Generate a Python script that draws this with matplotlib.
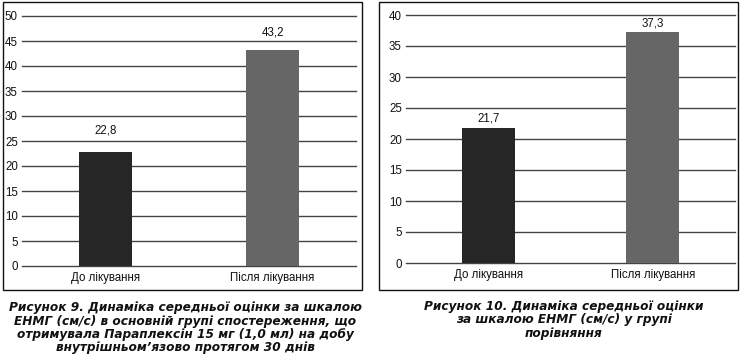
import matplotlib
matplotlib.use("Agg")
import matplotlib.pyplot as plt
from matplotlib.patches import Rectangle

categories = ["До лікування", "Після лікування"]
values_main = [22.8, 43.2]
values_comp = [21.7, 37.3]
labels_main = ["22,8", "43,2"]
labels_comp = ["21,7", "37,3"]
yticks_main = [0, 5, 10, 15, 20, 25, 30, 35, 40, 45, 50]
yticks_comp = [0, 5, 10, 15, 20, 25, 30, 35, 40]
bar_colors = ["#262626", "#666666"]
caption_main = ("Рисунок 9. Динаміка середньої оцінки за шкалою\n"
                "ЕНМГ (см/с) в основній групі спостереження, що\n"
                "отримувала Параплексін 15 мг (1,0 мл) на добу\n"
                "внутрішньом’язово протягом 30 днів")
caption_comp = ("Рисунок 10. Динаміка середньої оцінки\n"
                "за шкалою ЕНМГ (см/с) у групі\n"
                "порівняння")

plt.rcParams['font.family'] = ['Liberation Sans', 'DejaVu Sans']

W, H = 746, 364
fig = plt.figure(figsize=(W / 100, H / 100), dpi=100)

def px_axes(x0, y_top, x1, y_bot):
    return fig.add_axes([x0 / W, 1 - y_bot / H, (x1 - x0) / W, (y_bot - y_top) / H])

def draw_panel(ax, vals, labs, ticks, offsets):
    x = list(range(len(categories)))
    bars = ax.bar(x, vals, width=0.32, color=bar_colors, zorder=3)
    ax.set_xlim(-0.5, len(categories) - 0.5)
    ax.set_ylim(ticks[0], ticks[-1])
    ax.set_yticks(ticks)
    ax.set_yticklabels([str(t) for t in ticks])
    ax.set_xticks(x)
    ax.set_xticklabels(categories)
    ax.tick_params(axis='both', length=0, labelsize=8.3, colors='#111111')
    ax.tick_params(axis='y', pad=3)
    ax.tick_params(axis='x', pad=4.5)
    for s in ax.spines.values():
        s.set_visible(False)
    ax.yaxis.grid(True, color='#444444', linewidth=1.0, zorder=0)
    for gl in ax.get_ygridlines():
        gl.set_clip_on(False)
    ax.set_axisbelow(True)
    for b, lab, off in zip(bars, labs, offsets):
        ax.annotate(lab, (b.get_x() + b.get_width() / 2, b.get_height()),
                    xytext=(0, off), textcoords='offset points',
                    ha='center', va='bottom', fontsize=8.3, color='#111111')

ax1 = px_axes(22, 16, 356, 266)
draw_panel(ax1, values_main, labels_main, yticks_main, [11, 8.5])
ax2 = px_axes(406, 15, 735, 263)
draw_panel(ax2, values_comp, labels_comp, yticks_comp, [3, 1.5])

# frames
for (x0, y0, x1, y1) in [(3, 2, 362, 290), (379, 2, 738, 290)]:
    fig.patches.append(Rectangle((x0 / W, 1 - y1 / H), (x1 - x0) / W, (y1 - y0) / H,
                                 transform=fig.transFigure, fill=False,
                                 edgecolor='#111111', linewidth=1.0))

cap_font = dict(family=['DejaVu Sans'], fontsize=8.7, fontweight='bold',
                fontstyle='italic', linespacing=1.05, color='#111111',
                ha='center', va='top')
fig.text(185 / W, 1 - 301 / H, caption_main, **cap_font)
fig.text(564 / W, 1 - 300 / H, caption_comp, **cap_font)

fig.savefig("out.png", dpi=100)
